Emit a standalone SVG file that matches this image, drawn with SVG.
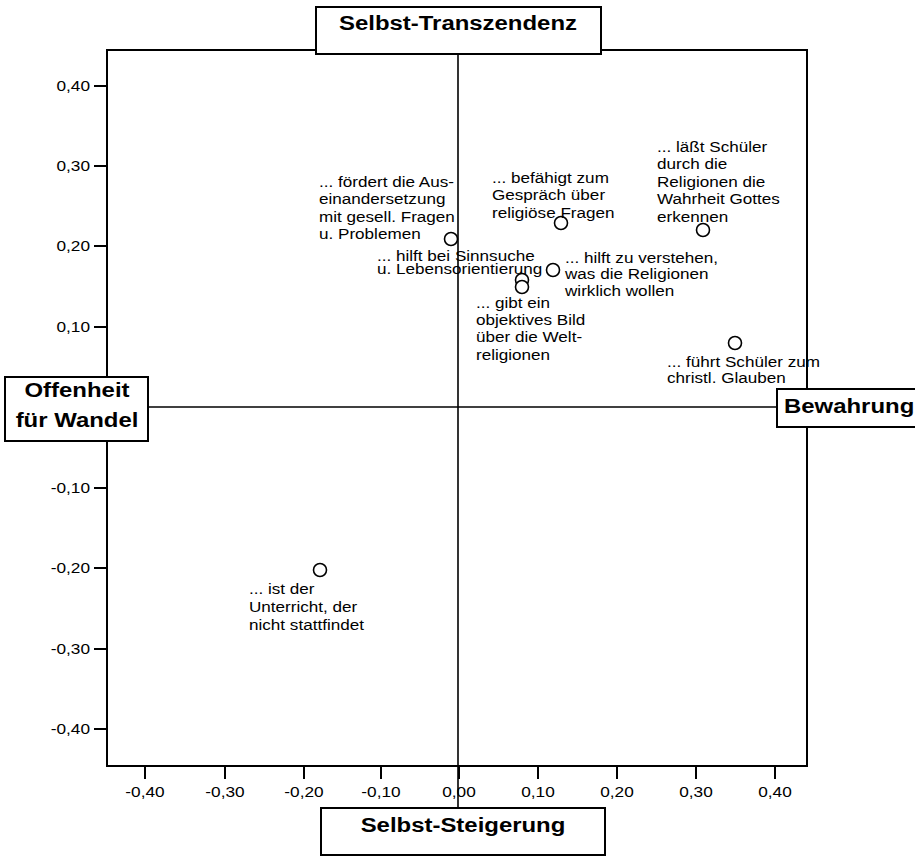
<svg xmlns="http://www.w3.org/2000/svg" width="915" height="856" viewBox="0 0 915 856">
<style>
text{font-family:"Liberation Sans",Arial,sans-serif;fill:#000}
.lbl{font-size:15px}
.tick{font-size:15px}
.title{font-size:21px;font-weight:bold}
.ln{stroke:#000;fill:none}
.pt{fill:#fff;stroke:#000;stroke-width:1.6}
.box{fill:#fff;stroke:#000;stroke-width:2}
</style>
<rect width="915" height="856" fill="#fff"/>
<g id="frame">
<rect x="107" y="50" width="700" height="716" class="ln" stroke-width="2"/>
</g>
<g id="connectors">
<line x1="458" y1="54" x2="458" y2="808" class="ln" stroke-width="1.6"/>
<line x1="148" y1="407" x2="777" y2="407" class="ln" stroke-width="1.6"/>
</g>
<g id="yaxis" class="ln" stroke-width="2">
<line x1="94" y1="86" x2="107" y2="86"/>
<line x1="94" y1="166" x2="107" y2="166"/>
<line x1="94" y1="246" x2="107" y2="246"/>
<line x1="94" y1="327" x2="107" y2="327"/>
<line x1="94" y1="488" x2="107" y2="488"/>
<line x1="94" y1="568" x2="107" y2="568"/>
<line x1="94" y1="649" x2="107" y2="649"/>
<line x1="94" y1="729" x2="107" y2="729"/>
</g>
<g id="xaxis" class="ln" stroke-width="2">
<line x1="145" y1="766" x2="145" y2="779"/>
<line x1="225" y1="766" x2="225" y2="779"/>
<line x1="304" y1="766" x2="304" y2="779"/>
<line x1="381" y1="766" x2="381" y2="779"/>
<line x1="459" y1="766" x2="459" y2="779"/>
<line x1="538" y1="766" x2="538" y2="779"/>
<line x1="617" y1="766" x2="617" y2="779"/>
<line x1="696" y1="766" x2="696" y2="779"/>
<line x1="775" y1="766" x2="775" y2="779"/>
</g>
<g id="ylabels" class="tick" text-anchor="end">
<text transform="matrix(1.15 0 0 1 90 91)">0,40</text>
<text transform="matrix(1.15 0 0 1 90 171)">0,30</text>
<text transform="matrix(1.15 0 0 1 90 251)">0,20</text>
<text transform="matrix(1.15 0 0 1 90 332)">0,10</text>
<text transform="matrix(1.15 0 0 1 90 493)">-0,10</text>
<text transform="matrix(1.15 0 0 1 90 573)">-0,20</text>
<text transform="matrix(1.15 0 0 1 90 654)">-0,30</text>
<text transform="matrix(1.15 0 0 1 90 734)">-0,40</text>
</g>
<g id="xlabels" class="tick" text-anchor="middle">
<text transform="matrix(1.15 0 0 1 145 797)">-0,40</text>
<text transform="matrix(1.15 0 0 1 225 797)">-0,30</text>
<text transform="matrix(1.15 0 0 1 304 797)">-0,20</text>
<text transform="matrix(1.15 0 0 1 381 797)">-0,10</text>
<text transform="matrix(1.15 0 0 1 459 797)">0,00</text>
<text transform="matrix(1.15 0 0 1 538 797)">0,10</text>
<text transform="matrix(1.15 0 0 1 617 797)">0,20</text>
<text transform="matrix(1.15 0 0 1 696 797)">0,30</text>
<text transform="matrix(1.15 0 0 1 775 797)">0,40</text>
</g>
<g id="top">
<rect x="316" y="7" width="285" height="47" class="box"/>
<text class="title" text-anchor="middle" transform="matrix(1.14 0 0 1 458 30)">Selbst-Transzendenz</text>
</g>
<g id="bottom">
<rect x="321" y="808" width="284" height="47" class="box"/>
<text class="title" text-anchor="middle" transform="matrix(1.14 0 0 1 463 832)">Selbst-Steigerung</text>
</g>
<g id="left">
<rect x="5" y="377" width="143" height="64" class="box"/>
<text class="title" text-anchor="middle" transform="matrix(1.14 0 0 1 77 397)"><tspan x="0">Offenheit</tspan><tspan x="0" dy="30">für Wandel</tspan></text>
</g>
<g id="right">
<rect x="777" y="389" width="150" height="38" class="box"/>
<text class="title" transform="matrix(1.14 0 0 1 784 413)">Bewahrung</text>
</g>
<g id="p-foerdert">
<circle cx="451" cy="239" r="6.5" class="pt"/>
<text class="lbl" transform="matrix(1.14 0 0 1 319 187)"><tspan x="0">... fördert die Aus-</tspan><tspan x="0" dy="17.3">einandersetzung</tspan><tspan x="0" dy="17.3">mit gesell. Fragen</tspan><tspan x="0" dy="17.3">u. Problemen</tspan></text>
</g>
<g id="p-befaehigt">
<circle cx="561" cy="223" r="6.5" class="pt"/>
<text class="lbl" transform="matrix(1.14 0 0 1 492 183)"><tspan x="0">... befähigt zum</tspan><tspan x="0" dy="17.4">Gespräch über</tspan><tspan x="0" dy="17.4">religiöse Fragen</tspan></text>
</g>
<g id="p-laesst">
<circle cx="703" cy="230" r="6.5" class="pt"/>
<text class="lbl" transform="matrix(1.14 0 0 1 657 152)"><tspan x="0">... läßt Schüler</tspan><tspan x="0" dy="17.4">durch die</tspan><tspan x="0" dy="17.4">Religionen die</tspan><tspan x="0" dy="17.4">Wahrheit Gottes</tspan><tspan x="0" dy="17.4">erkennen</tspan></text>
</g>
<g id="p-sinnsuche">
<circle cx="522" cy="280" r="6.5" class="pt"/>
<text class="lbl" transform="matrix(1.14 0 0 1 377 261)"><tspan x="0">... hilft bei Sinnsuche</tspan><tspan x="0" dy="13">u. Lebensorientierung</tspan></text>
</g>
<g id="p-verstehen">
<circle cx="553" cy="270" r="6.5" class="pt"/>
<text class="lbl" transform="matrix(1.14 0 0 1 565 263)"><tspan x="0">... hilft zu verstehen,</tspan><tspan x="0" dy="16.5">was die Religionen</tspan><tspan x="0" dy="16.5">wirklich wollen</tspan></text>
</g>
<g id="p-bild">
<circle cx="522" cy="287" r="6.5" class="pt"/>
<text class="lbl" transform="matrix(1.14 0 0 1 476 308)"><tspan x="0">... gibt ein</tspan><tspan x="0" dy="17.2">objektives Bild</tspan><tspan x="0" dy="17.2">über die Welt-</tspan><tspan x="0" dy="17.2">religionen</tspan></text>
</g>
<g id="p-glauben">
<circle cx="735" cy="343" r="6.5" class="pt"/>
<text class="lbl" transform="matrix(1.14 0 0 1 667 367)"><tspan x="0">... führt Schüler zum</tspan><tspan x="0" dy="16.5">christl. Glauben</tspan></text>
</g>
<g id="p-unterricht">
<circle cx="320" cy="570" r="6.5" class="pt"/>
<text class="lbl" transform="matrix(1.14 0 0 1 249 594)"><tspan x="0">... ist der</tspan><tspan x="0" dy="18">Unterricht, der</tspan><tspan x="0" dy="18">nicht stattfindet</tspan></text>
</g>
</svg>
